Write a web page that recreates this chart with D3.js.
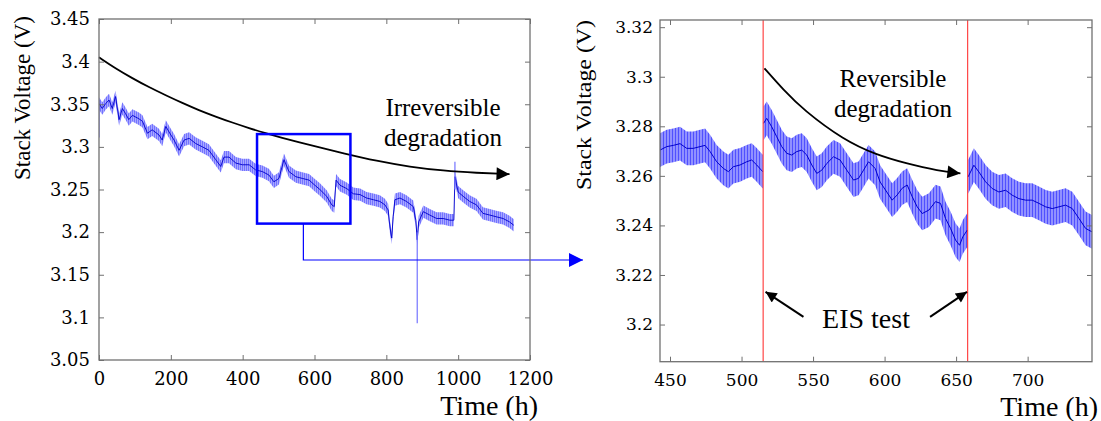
<!DOCTYPE html>
<html><head><meta charset="utf-8">
<script src="https://cdn.jsdelivr.net/npm/d3@7"></script>
<style>
html,body{margin:0;padding:0;background:#fff;}
svg{display:block;}
text.serif{font-family:"Liberation Serif",Tinos,"Times New Roman",serif;}
text.tick{font-family:"DejaVu Serif",serif;}
</style></head>
<body>
<svg id="chart" width="1101" height="421"></svg>
<script>
// ---------- DATA ----------
// Left panel: full test (time in h, stack voltage in V)
const leftTime = [0,9,19,28,37,46,56,65,74,83,93,111,121,135,148,167,176,186,200,209,223,237,251,269,288,306,325,339,348,362,381,399,418,436,455,473,487,501,515,529,548,566,585,601,615,634,648,655,660,671,690,708,727,745,764,782,796,805,810,815,819,824,838,856,875,882,886,890,903,921,940,958,977,988,991,1000,1014,1032,1051,1069,1088,1106,1125,1143,1155];
const leftVolt = [3.351,3.345,3.351,3.355,3.345,3.359,3.332,3.345,3.339,3.332,3.337,3.333,3.330,3.316,3.320,3.314,3.308,3.324,3.314,3.308,3.296,3.308,3.310,3.304,3.300,3.296,3.285,3.277,3.288,3.288,3.281,3.279,3.279,3.273,3.271,3.267,3.259,3.263,3.285,3.271,3.265,3.263,3.261,3.255,3.250,3.242,3.232,3.230,3.261,3.255,3.251,3.245,3.244,3.240,3.238,3.236,3.232,3.226,3.206,3.193,3.218,3.238,3.240,3.236,3.230,3.214,3.191,3.212,3.224,3.220,3.216,3.216,3.214,3.214,3.265,3.247,3.242,3.236,3.232,3.222,3.220,3.218,3.216,3.212,3.208];
const leftSpread = 0.0072;   // half-width of the noise band (V)
// thin spikes in the left panel: [time, low, high]
const leftSpikes = [[0,3.311,3.355],[886,3.093,3.200],[991,3.250,3.2825]];
// irreversible degradation trend
const irrevTime = [0,46,93,139,186,232,278,325,371,418,464,510,557,612,680,773,866,958,1051,1143];
const irrevVolt = [3.405,3.392,3.3805,3.370,3.3605,3.3515,3.343,3.3355,3.3285,3.322,3.316,3.3105,3.3055,3.2995,3.2925,3.2835,3.2765,3.272,3.2695,3.268];
// zoom window
const zoomBox = {t0:440, t1:700, v0:3.210, v1:3.315};

// Right panel: zoom 443-745 h
const rightTime = [443,447.7,452.3,457,461.7,466.3,471,474.5,478,482.6,487.3,490.8,494.3,499,503.6,507.1,510.6,514.8,515.4,517.6,521.1,524.6,528.1,531.6,535.1,538.6,542.1,545.6,549.1,552.6,556.1,559.6,564.3,568.9,573.6,578.3,581.8,585.3,588.8,593.4,596.9,600.6,605.3,608.8,612.3,615.8,619.3,622.8,626.3,631,635.6,639.1,642.6,646.1,649.6,652.4,654.7,657.8,658.4,662.4,665.9,670.6,675.2,679.9,684.6,689.2,693.9,698.6,703.2,707.9,712.6,717.2,721.9,726.5,731.2,735.9,740.5,745];
const rightVolt = [3.2704,3.2718,3.2723,3.2730,3.2711,3.2711,3.2718,3.2723,3.2698,3.2657,3.2630,3.2617,3.2637,3.2644,3.2657,3.2664,3.2644,3.2617,3.2812,3.2832,3.2798,3.2758,3.2718,3.2691,3.2684,3.2698,3.2704,3.2684,3.2644,3.2610,3.2623,3.2650,3.2677,3.2664,3.2623,3.2583,3.2590,3.2623,3.2657,3.2630,3.2575,3.2543,3.2502,3.2523,3.2550,3.2563,3.2516,3.2475,3.2448,3.2462,3.2496,3.2489,3.2428,3.2388,3.2341,3.2320,3.2354,3.2381,3.2596,3.2643,3.2616,3.2576,3.2549,3.2535,3.2542,3.2522,3.2508,3.2502,3.2502,3.2489,3.2475,3.2468,3.2475,3.2482,3.2468,3.2428,3.2388,3.2374];
const rightSpread = 0.0068;
const eisTimes = [515.1, 658.1];
const revTime = [516,529.3,543.3,571.3,594.6,614.6,637.9,653];
const revVolt = [3.3034,3.2947,3.2866,3.2745,3.2684,3.2651,3.2620,3.2610];
// EIS arrows: [tailT, tailV, headT, headV]
const eisArrows = [[543.3,3.2031,516.8,3.2132],[631.8,3.2031,657.6,3.2132]];

// ---------- LAYOUT ----------
const svg = d3.select('#chart');
const frameColor = '#707070';

const xL = d3.scaleLinear([0,1200],[99,530]);
const yL = d3.scaleLinear([3.05,3.45],[360,19]);
const xR = d3.scaleLinear([443,745],[660,1092]);
const yR = d3.scaleLinear([3.185,3.3229],[361.7,20]);

const defs = svg.append('defs');
function marker(id, color, w, h){
  defs.append('marker').attr('id',id).attr('viewBox','0 0 10 10')
    .attr('refX',10).attr('refY',5).attr('markerUnits','userSpaceOnUse')
    .attr('markerWidth',w).attr('markerHeight',h).attr('orient','auto')
    .append('path').attr('d','M0,0L10,5L0,10z').attr('fill',color);
}
marker('arrK','#000',15,13);
marker('arrK2','#000',13,11);
marker('arrB','#0000ff',15,14);

function pattern(id, w, light, dark){
  const p = defs.append('pattern').attr('id',id).attr('patternUnits','userSpaceOnUse')
    .attr('width',w).attr('height',8);
  p.append('rect').attr('width',w).attr('height',8).attr('fill',light);
  p.append('rect').attr('width',1).attr('height',8).attr('fill',dark);
}
pattern('hatchR',3,'#8585ff','#3c3cff');
pattern('hatchL',2,'#9a9aff','#5a5aff');

defs.append('clipPath').attr('id','clipL').append('rect').attr('x',99).attr('y',19).attr('width',431).attr('height',341);
defs.append('clipPath').attr('id','clipR').append('rect').attr('x',660).attr('y',20).attr('width',432).attr('height',341.7);

function drawAxes(x, y, xt, yt, fs, pad){
  const [x0,x1] = x.range(), [y0,y1] = y.range();
  const gb = svg.append('g').attr('transform',`translate(0,${y0})`)
    .call(d3.axisBottom(x).tickValues(xt).tickSize(-5).tickPadding(12).tickFormat(d3.format('d')));
  const gt = svg.append('g').attr('transform',`translate(0,${y1})`)
    .call(d3.axisTop(x).tickValues(xt).tickSize(-5).tickFormat(''));
  const gl = svg.append('g').attr('transform',`translate(${x0},0)`)
    .call(d3.axisLeft(y).tickValues(yt).tickSize(-5).tickPadding(pad).tickFormat(d3.format('')));
  const gr = svg.append('g').attr('transform',`translate(${x1},0)`)
    .call(d3.axisRight(y).tickValues(yt).tickSize(-5).tickFormat(''));
  [gb,gt,gl,gr].forEach(g=>{
    g.attr('font-family',null).attr('font-size',null);
    g.select('.domain').remove();
    g.selectAll('line').attr('stroke',frameColor).attr('stroke-width',1);
    g.selectAll('text').attr('class','tick').style('font-size',fs+'px').attr('fill','#000');
  });
  svg.append('rect').attr('x',x0).attr('y',y1).attr('width',x1-x0).attr('height',y0-y1)
    .attr('fill','none').attr('stroke',frameColor).attr('stroke-width',1.3);
}
function label(x, y, size, txt, anchor){
  return svg.append('text').attr('class','serif').attr('x',x).attr('y',y)
    .attr('text-anchor',anchor||'middle').style('font-size',size+'px').text(txt);
}

// ---------- LEFT PANEL ----------
const gL = svg.append('g').attr('clip-path','url(#clipL)');
const lData = leftTime.map((t,i)=>({t, v:leftVolt[i]}));
gL.append('path').datum(lData)
  .attr('d', d3.area().x(d=>xL(d.t)).y0(d=>yL(d.v-leftSpread)).y1(d=>yL(d.v+leftSpread)))
  .attr('fill','url(#hatchL)').attr('opacity',0.85);
gL.append('path').datum(lData)
  .attr('d', d3.line().x(d=>xL(d.t)).y(d=>yL(d.v)))
  .attr('fill','none').attr('stroke','#0000cc').attr('stroke-width',0.9);
gL.selectAll('line.spike').data(leftSpikes).join('line')
  .attr('x1',d=>xL(d[0])).attr('x2',d=>xL(d[0])).attr('y1',d=>yL(d[1])).attr('y2',d=>yL(d[2]))
  .attr('stroke','#7373ff').attr('stroke-width',1.2);
svg.append('path').datum(irrevTime.map((t,i)=>({t,v:irrevVolt[i]})))
  .attr('d', d3.line().curve(d3.curveBasis).x(d=>xL(d.t)).y(d=>yL(d.v)))
  .attr('fill','none').attr('stroke','#000').attr('stroke-width',1.8).attr('marker-end','url(#arrK)');
svg.append('rect').attr('x',xL(zoomBox.t0)).attr('y',yL(zoomBox.v1))
  .attr('width',xL(zoomBox.t1)-xL(zoomBox.t0)).attr('height',yL(zoomBox.v0)-yL(zoomBox.v1))
  .attr('fill','none').attr('stroke','#0000ff').attr('stroke-width',2.5);
const cx = xL(569);
svg.append('path').attr('d',`M${cx},${yL(zoomBox.v0)}V260H583`)
  .attr('fill','none').attr('stroke','#0000ff').attr('stroke-width',1.2).attr('marker-end','url(#arrB)');

drawAxes(xL, yL, d3.range(0,1201,200), d3.range(3.05,3.4501,0.05).map(v=>+v.toFixed(2)), 18, 9);

svg.append('text').attr('class','serif').attr('transform','translate(30,98) rotate(-90)').attr('text-anchor','middle')
  .style('font-size','23px').text('Stack Voltage (V)');
label(538, 415, 28, 'Time (h)', 'end');
label(443, 116, 25, 'Irreversible');
label(443, 146, 25, 'degradation');

// ---------- RIGHT PANEL ----------
const gR = svg.append('g').attr('clip-path','url(#clipR)');
const rData = rightTime.map((t,i)=>({t, v:rightVolt[i]}));
const segs = [rData.filter(d=>d.t<515.1), rData.filter(d=>d.t>=515.1 && d.t<658.1), rData.filter(d=>d.t>=658.1)];
segs.forEach(s=>{
  gR.append('path').datum(s)
    .attr('d', d3.area().x(d=>xR(d.t)).y0(d=>yR(d.v-rightSpread)).y1(d=>yR(d.v+rightSpread)))
    .attr('fill','url(#hatchR)').attr('opacity',0.9);
  gR.append('path').datum(s)
    .attr('d', d3.line().x(d=>xR(d.t)).y(d=>yR(d.v)))
    .attr('fill','none').attr('stroke','#0000cc').attr('stroke-width',1);
});
gR.selectAll('line.eis').data(eisTimes).join('line')
  .attr('x1',d=>xR(d)).attr('x2',d=>xR(d)).attr('y1',yR.range()[0]).attr('y2',yR.range()[1])
  .attr('stroke','#ff2020').attr('stroke-width',1);
svg.append('path').datum(revTime.map((t,i)=>({t,v:revVolt[i]})))
  .attr('d', d3.line().curve(d3.curveBasis).x(d=>xR(d.t)).y(d=>yR(d.v)))
  .attr('fill','none').attr('stroke','#000').attr('stroke-width',1.8).attr('marker-end','url(#arrK)');
svg.selectAll('line.eisarr').data(eisArrows).join('line')
  .attr('x1',d=>xR(d[0])).attr('y1',d=>yR(d[1])).attr('x2',d=>xR(d[2])).attr('y2',d=>yR(d[3]))
  .attr('stroke','#000').attr('stroke-width',2).attr('marker-end','url(#arrK2)');

drawAxes(xR, yR, d3.range(450,701,50), d3.range(3.20,3.3201,0.02).map(v=>+v.toFixed(2)), 17, 7);

svg.append('text').attr('class','serif').attr('transform','translate(591,105) rotate(-90)').attr('text-anchor','middle')
  .style('font-size','21px').attr('textLength',170).attr('lengthAdjust','spacingAndGlyphs').text('Stack Voltage (V)');
label(1098, 416, 28, 'Time (h)', 'end');
label(893, 87, 25, 'Reversible');
label(893, 117, 25, 'degradation');
label(xR(587), yR(3.1985), 28, 'EIS test');
</script>
</body></html>
